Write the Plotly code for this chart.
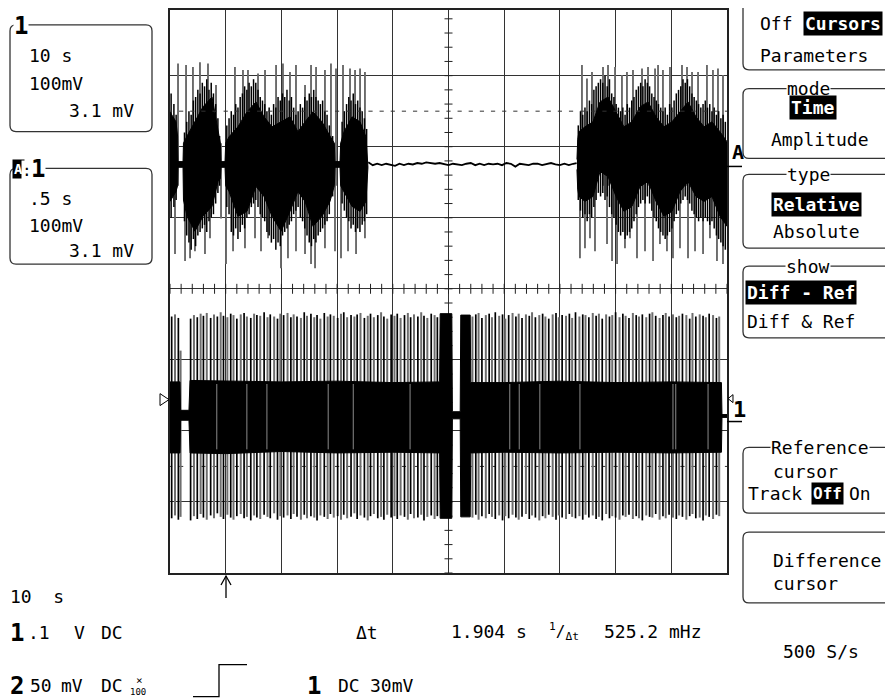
import plotly.graph_objects as go

# ---------------- DATA ----------------
# Top trace (zoom A: 0.5 s/div, 100 mV/div); time in s, voltage in mV about trace baseline
top_band_t = [0.000, 0.054, 0.068, 0.072, 0.117, 0.121, 0.153, 0.224, 0.296, 0.377,
              0.431, 0.452, 0.458, 0.494, 0.500, 0.530, 0.610, 0.691, 0.772, 0.844,
              0.916, 0.997, 1.077, 1.149, 1.212, 1.284, 1.364, 1.436, 1.475, 1.481,
              1.526, 1.532, 1.562, 1.634, 1.706, 1.759, 1.777]
top_band_hi = [74, 60, 40, 4, 4, 30, 40, 60, 81, 95,
               46, 30, 4, 4, 30, 39, 53, 74, 88, 67,
               53, 60, 67, 46, 60, 74, 60, 40, 30, 4,
               4, 30, 46, 67, 60, 39, 4]
top_band_lo = [-52, -38, -30, -4, -4, -50, -73, -94, -73, -59,
               -24, -20, -4, -4, -30, -38, -73, -66, -31, -45,
               -73, -94, -66, -38, -52, -87, -73, -52, -30, -4,
               -4, -30, -38, -59, -66, -52, -4]

top_band2_t = [3.653, 3.660, 3.671, 3.725, 3.797, 3.860, 3.932, 4.004, 4.075, 4.147,
               4.219, 4.291, 4.363, 4.434, 4.506, 4.578, 4.650, 4.722, 4.794, 4.865,
               4.937, 5.000]
top_band2_hi = [7, 35, 46, 53, 60, 88, 95, 74, 53, 60,
                81, 88, 67, 53, 60, 74, 88, 67, 53, 60,
                46, 32]
top_band2_lo = [-7, -35, -45, -52, -45, -10, -17, -45, -66, -59,
                -31, -24, -52, -73, -66, -38, -24, -45, -52, -45,
                -73, -87]

# tall (grey) excursions of the bursts
top_up_t = [0.072, 0.144, 0.206, 0.269, 0.341, 0.413, 0.583, 0.655, 0.700, 0.790,
            0.853, 0.952, 1.014, 1.077, 1.131, 1.212, 1.266, 1.311, 1.391, 1.445,
            1.490, 1.553, 1.616, 1.661, 1.706, 1.750,
            3.698, 3.743, 3.788, 3.887, 3.932, 3.995, 4.057, 4.102, 4.156, 4.237,
            4.291, 4.354, 4.381, 4.425, 4.488, 4.596, 4.641, 4.686, 4.740, 4.820,
            4.874, 4.919, 4.964]
top_up_v = [142, 140, 137, 144, 142, 112, 137, 133, 133, 128,
            133, 140, 142, 130, 140, 112, 140, 137, 133, 142,
            135, 140, 135, 133, 135, 130,
            140, 121, 130, 137, 140, 137, 126, 130, 133, 135,
            137, 135, 140, 133, 137, 140, 137, 130, 130, 140,
            133, 135, 126]
top_dn_t = [0.045, 0.135, 0.180, 0.224, 0.314, 0.359, 0.458, 0.503, 0.566, 0.673,
            0.763, 0.817, 0.880, 0.996, 1.059, 1.131, 1.212, 1.266, 1.302, 1.391,
            1.481, 1.535, 1.598, 1.670, 1.750,
            3.680, 3.725, 3.770, 3.815, 3.923, 3.968, 4.013, 4.084, 4.129, 4.192,
            4.264, 4.336, 4.398, 4.461, 4.515, 4.578, 4.650, 4.713, 4.785, 4.847,
            4.910, 4.964]
top_dn_v = [-126, -136, -132, -122, -126, -104, -76, -140, -122, -118,
            -104, -122, -104, -146, -132, -122, -126, -140, -146, -118,
            -122, -132, -122, -126, -104,
            -132, -118, -104, -122, -112, -136, -140, -118, -104, -132,
            -122, -136, -112, -122, -132, -118, -132, -122, -126, -104,
            -136, -140]

# medium (black) excursions that form the ragged body of the bursts
top_mid_t = [0.010, 0.035, 0.055,
             0.130, 0.150, 0.170, 0.190, 0.210, 0.230, 0.250, 0.270, 0.290, 0.310,
             0.330, 0.350, 0.370, 0.390, 0.410, 0.430, 0.445,
             0.510, 0.530, 0.550, 0.570, 0.590, 0.610, 0.630, 0.650, 0.670, 0.690,
             0.710, 0.730, 0.750, 0.770, 0.790, 0.810, 0.830, 0.850, 0.870, 0.890,
             0.910, 0.930, 0.950, 0.970, 0.990, 1.010, 1.030, 1.050, 1.070, 1.090,
             1.110, 1.130, 1.150, 1.170, 1.190, 1.210, 1.230, 1.250, 1.270, 1.290,
             1.310, 1.330, 1.350, 1.370, 1.390, 1.410, 1.430, 1.460,
             1.545, 1.565, 1.585, 1.605, 1.625, 1.645, 1.665, 1.685, 1.705, 1.725,
             1.745, 1.765,
             3.665, 3.685, 3.705, 3.725, 3.745, 3.765, 3.785, 3.805, 3.825, 3.845,
             3.865, 3.885, 3.905, 3.925, 3.945, 3.965, 3.985, 4.005, 4.025, 4.045,
             4.065, 4.085, 4.105, 4.125, 4.145, 4.165, 4.185, 4.205, 4.225, 4.245,
             4.265, 4.285, 4.305, 4.325, 4.345, 4.365, 4.385, 4.405, 4.425, 4.445,
             4.465, 4.485, 4.505, 4.525, 4.545, 4.565, 4.585, 4.605, 4.625, 4.645,
             4.665, 4.685, 4.705, 4.725, 4.745, 4.765, 4.785, 4.805, 4.825, 4.845,
             4.865, 4.885, 4.905, 4.925, 4.945, 4.965, 4.985]
top_mid_hi = [100, 85, 70,
              45, 60, 75, 70, 90, 95, 105, 100, 115, 110,
              120, 105, 115, 100, 85, 65, 40,
              55, 65, 75, 70, 85, 80, 95, 100, 110, 105,
              115, 110, 120, 115, 105, 95, 90, 85, 75, 80,
              70, 85, 80, 95, 90, 100, 95, 105, 90, 95,
              80, 70, 75, 85, 80, 95, 90, 100, 95, 105,
              95, 90, 85, 90, 75, 70, 55, 40,
              60, 75, 85, 95, 90, 100, 85, 90, 80, 75,
              65, 50,
              55, 75, 70, 80, 75, 90, 85, 105, 110, 115,
              120, 115, 125, 110, 120, 100, 95, 85, 80, 75,
              80, 70, 85, 80, 90, 95, 105, 110, 115, 110,
              120, 115, 110, 100, 95, 90, 85, 80, 75, 80,
              70, 85, 80, 90, 100, 105, 110, 120, 115, 120,
              110, 100, 95, 90, 85, 80, 85, 90, 80, 85,
              75, 80, 70, 75, 65, 70, 60]
top_mid_lo = [-75, -60, -50,
              -80, -100, -110, -120, -105, -115, -100, -95, -90, -85,
              -95, -80, -75, -70, -55, -40, -30,
              -60, -70, -95, -100, -90, -105, -95, -85, -90, -75,
              -70, -60, -55, -50, -60, -70, -75, -80, -95, -100,
              -110, -105, -120, -110, -115, -100, -95, -90, -85, -80,
              -70, -65, -60, -75, -80, -90, -100, -110, -115, -105,
              -110, -100, -95, -90, -85, -80, -70, -45,
              -55, -65, -75, -80, -90, -85, -95, -90, -95, -85,
              -80, -70,
              -50, -65, -75, -70, -80, -70, -75, -60, -50, -40,
              -45, -40, -50, -45, -60, -70, -75, -85, -95, -100,
              -95, -105, -100, -95, -90, -80, -70, -60, -55, -50,
              -55, -45, -55, -65, -75, -80, -90, -95, -100, -105,
              -100, -95, -90, -80, -70, -65, -55, -50, -45, -50,
              -55, -65, -70, -75, -80, -75, -80, -75, -80, -85,
              -80, -90, -100, -105, -110, -115, -120]

top_flat_t = [1.78, 1.82, 1.86, 1.90, 1.94, 1.98, 2.02, 2.06, 2.10, 2.14,
              2.18, 2.22, 2.26, 2.30, 2.34, 2.38, 2.42, 2.46, 2.50, 2.54,
              2.58, 2.62, 2.66, 2.70, 2.74, 2.78, 2.82, 2.86, 2.90, 2.94,
              2.98, 3.02, 3.06, 3.10, 3.14, 3.18, 3.22, 3.26, 3.30, 3.34,
              3.38, 3.42, 3.46, 3.50, 3.54, 3.58, 3.62, 3.65]
top_flat_v = [3, -1, 1, -1, 1, 0, -2, 1, -1, 1,
              0, 2, 1, 3, 2, 1, 2, 1, -1, 1,
              0, -1, 1, 2, -1, 1, -1, 1, 0, 1,
              -1, 2, 1, -3, 1, 0, -1, 1, 1, -1,
              1, 2, 0, -1, 1, -1, 1, 2]

# Bottom trace (channel 1: 10 s/div, 100 mV/div); time in s, voltage in mV about trace baseline
bot_band_T = [0.0, 1.8, 1.9, 3.4, 3.6, 10.0, 20.0, 30.0, 40.0, 48.4,
              48.5, 50.6, 50.7, 52.1, 52.2, 53.9, 54.0, 60.0, 70.0, 80.0,
              90.0, 99.0, 99.1, 100.0]
bot_band_hi = [48, 48, 8, 8, 50, 49, 48, 49, 47, 48,
               144, 144, 6, 6, 142, 142, 47, 47, 49, 47,
               48, 47, 2, 2]
bot_band_lo = [-52, -52, -6, -6, -52, -53, -50, -52, -51, -52,
               -144, -144, -4, -4, -142, -142, -52, -51, -52, -51,
               -52, -51, -2, -2]

bot_spike_T = [0.3, 0.9, 1.5, 1.9, 3.7,
               4.3, 4.9, 5.5, 6.0, 6.6, 7.3, 7.9, 8.5, 9.1, 9.6,
               10.3, 10.9, 11.4, 12.0, 12.7, 13.3, 13.8, 14.5, 15.1, 15.6,
               16.2, 16.9, 17.5, 18.0, 18.7, 19.3, 19.8, 20.4, 21.1, 21.7,
               22.2, 22.8, 23.5, 24.1, 24.6, 25.3, 25.9, 26.4, 27.0, 27.7,
               28.3, 28.8, 29.4, 30.1, 30.7, 31.2, 31.8, 32.5, 33.1, 33.6,
               34.2, 34.9, 35.5, 36.0, 36.6, 37.3, 37.9, 38.4, 39.0, 39.7,
               40.3, 40.8, 41.4, 42.1, 42.7, 43.2, 43.8, 44.5, 45.1, 45.6,
               46.2, 46.9, 47.5, 48.0,
               54.3, 54.9, 55.4, 56.0, 56.7, 57.3, 57.8, 58.4, 59.1, 59.7,
               60.2, 60.8, 61.5, 62.1, 62.6, 63.2, 63.9, 64.5, 65.0, 65.6,
               66.3, 66.9, 67.4, 68.0, 68.7, 69.3, 69.8, 70.4, 71.1, 71.7,
               72.2, 72.8, 73.5, 74.1, 74.6, 75.2, 75.9, 76.5, 77.0, 77.6,
               78.3, 78.9, 79.4, 80.0, 80.7, 81.3, 81.8, 82.4, 83.1, 83.7,
               84.2, 84.8, 85.5, 86.1, 86.6, 87.2, 87.9, 88.5, 89.0, 89.6,
               90.3, 90.9, 91.4, 92.0, 92.7, 93.3, 93.8, 94.4, 95.1, 95.7,
               96.2, 96.8, 97.5, 98.1, 98.6]
bot_spike_hi = [140, 143, 138, 92, 137,
                142, 139, 144, 141, 145, 138, 143, 140, 146, 141,
                139, 144, 142, 137, 143, 145, 140, 138, 144, 142,
                141, 146, 139, 143, 140, 137, 144, 142, 145, 139,
                143, 140, 138, 146, 141, 144, 139, 142, 137, 145,
                140, 143, 141, 138, 144, 146, 139, 142, 140, 143,
                145, 138, 141, 144, 139, 142, 146, 140, 137, 143,
                141, 144, 138, 142, 145, 139, 143, 140, 146, 141,
                138, 144, 142, 139,
                140, 143, 145, 138, 142, 144, 139, 146, 141, 143,
                137, 142, 145, 140, 144, 138, 143, 141, 146, 139,
                142, 144, 140, 137, 143, 145, 139, 142, 141, 144,
                138, 146, 140, 143, 142, 139, 145, 141, 144, 137,
                143, 140, 142, 146, 139, 144, 141, 138, 145, 142,
                140, 143, 139, 144, 146, 141, 138, 142, 145, 140,
                143, 139, 141, 144, 142, 137, 145, 140, 143, 141,
                139, 144, 142, 138, 140]
bot_spike_lo = [-144, -140, -146, -142, -147,
                -141, -145, -138, -143, -146, -140, -144, -137, -142, -145,
                -139, -143, -146, -141, -138, -144, -142, -147, -140, -143,
                -145, -139, -142, -144, -137, -146, -141, -143, -140, -145,
                -138, -142, -146, -139, -144, -141, -143, -147, -140, -142,
                -145, -138, -143, -141, -146, -139, -144, -142, -137, -145,
                -140, -143, -147, -141, -138, -144, -142, -146, -139, -143,
                -141, -145, -140, -142, -146, -138, -144, -143, -139, -147,
                -142, -140, -145, -141,
                -143, -139, -146, -141, -144, -138, -142, -145, -140, -147,
                -141, -144, -139, -143, -146, -142, -138, -145, -140, -143,
                -147, -141, -144, -139, -142, -146, -140, -143, -145, -138,
                -142, -144, -141, -146, -139, -143, -140, -145, -142, -147,
                -138, -144, -141, -143, -146, -140, -142, -139, -145, -141,
                -144, -147, -140, -142, -143, -138, -146, -141, -144, -139,
                -143, -145, -140, -142, -146, -141, -138, -144, -143, -147,
                -140, -142, -145, -139, -141]
# thin light lines visible inside the dense band
bot_gap_T = [8.4, 13.8, 17.4, 28.4, 32.9, 43.1, 61.0, 62.7, 66.4, 73.6, 90.3, 90.8, 96.6]

# ---------------- LAYOUT HELPERS ----------------
# The page body has an 8 px margin, so the figure is sized/placed to compensate.
OFF = 8
W, H = 893 - OFF, 700 - OFF
L, R, T, B = 170, 727, OFF, 573          # plot area in window pixels
FONT = "DejaVu Sans Mono"


def P(px, py):
    return (px - L) / (R - L), (B - py) / (B - T)


def path_of(points, close=False):
    s = ""
    for i, (px, py) in enumerate(points):
        x, y = P(px, py)
        s += ("M" if i == 0 else "L") + f"{x:.5f},{y:.5f} "
    return s + ("Z" if close else "")


def rbox(x0, y0, x1, y1, r=6):
    def p(px, py):
        x, y = P(px, py)
        return f"{x:.5f},{y:.5f}"
    d = (f"M{p(x0 + r, y0)} L{p(x1 - r, y0)} Q{p(x1, y0)} {p(x1, y0 + r)} "
         f"L{p(x1, y1 - r)} Q{p(x1, y1)} {p(x1 - r, y1)} L{p(x0 + r, y1)} "
         f"Q{p(x0, y1)} {p(x0, y1 - r)} L{p(x0, y0 + r)} Q{p(x0, y0)} {p(x0 + r, y0)} Z")
    return dict(type="path", xref="paper", yref="paper", path=d,
                line=dict(color="#333", width=1.3), layer="above")


annotations = []


def txt(s, px, py, size=18, anchor="left", bold=False, inv=False, bg=None):
    x, y = P(px, py)
    a = dict(x=x, y=y, xref="paper", yref="paper", text=(f"<b>{s}</b>" if bold else s),
             showarrow=False, xanchor=anchor, yanchor="middle",
             font=dict(family=FONT, size=size, color="white" if inv else "black"),
             borderpad=1)
    if inv:
        a["bgcolor"] = "black"
    elif bg:
        a["bgcolor"] = bg
        a["borderpad"] = 0
    annotations.append(a)


def segs(xs, lo, hi):
    X, Y = [], []
    for x, a, b in zip(xs, lo, hi):
        X += [x, x, None]; Y += [a, b, None]
    return X, Y


fig = go.Figure()

# ---------------- BOTTOM TRACE (x2/y2) ----------------
X, Y = segs(bot_spike_T[1::2], bot_spike_lo[1::2], bot_spike_hi[1::2])
fig.add_trace(go.Scatter(x=X, y=Y, mode="lines", xaxis="x2", yaxis="y2",
                         line=dict(color="#6e6e6e", width=2.0), hoverinfo="skip"))
X, Y = segs(bot_spike_T[0::2], bot_spike_lo[0::2], bot_spike_hi[0::2])
fig.add_trace(go.Scatter(x=X, y=Y, mode="lines", xaxis="x2", yaxis="y2",
                         line=dict(color="black", width=1.7), hoverinfo="skip"))
fig.add_trace(go.Scatter(x=bot_band_T + bot_band_T[::-1], y=bot_band_hi + bot_band_lo[::-1],
                         mode="lines", fill="toself", fillcolor="black", xaxis="x2", yaxis="y2",
                         line=dict(color="black", width=1), hoverinfo="skip"))
X, Y = segs(bot_gap_T, [-47] * len(bot_gap_T), [45] * len(bot_gap_T))
fig.add_trace(go.Scatter(x=X, y=Y, mode="lines", xaxis="x2", yaxis="y2",
                         line=dict(color="#8a8a8a", width=1), hoverinfo="skip"))

# ---------------- TOP TRACE (x/y) ----------------
X, Y = segs(top_up_t, [-30] * len(top_up_t), top_up_v)
fig.add_trace(go.Scatter(x=X, y=Y, mode="lines", line=dict(color="#6a6a6a", width=1.9), hoverinfo="skip"))
X, Y = segs(top_dn_t, [30] * len(top_dn_t), top_dn_v)
fig.add_trace(go.Scatter(x=X, y=Y, mode="lines", line=dict(color="#6a6a6a", width=1.9), hoverinfo="skip"))
X, Y = segs(top_mid_t, top_mid_lo, top_mid_hi)
fig.add_trace(go.Scatter(x=X, y=Y, mode="lines", line=dict(color="black", width=1.5), hoverinfo="skip"))
for bt, bh, bl in ((top_band_t, top_band_hi, top_band_lo), (top_band2_t, top_band2_hi, top_band2_lo)):
    fig.add_trace(go.Scatter(x=bt + bt[::-1], y=bh + bl[::-1], mode="lines", fill="toself",
                             fillcolor="black", line=dict(color="black", width=1), hoverinfo="skip"))
fig.add_trace(go.Scatter(x=top_flat_t, y=top_flat_v, mode="lines",
                         line=dict(color="black", width=1.8), hoverinfo="skip"))

# ---------------- GRATICULE EXTRAS ----------------
tx, ty = [], []
for k in range(51):
    x = 0.1 * k
    tx += [x, x, None]; ty += [-182, -168, None]
for k in range(40):
    y = -575 + 20 * k
    tx += [2.464, 2.536, None]; ty += [y, y, None]
fig.add_trace(go.Scatter(x=tx, y=ty, mode="lines", line=dict(color="#222", width=1), hoverinfo="skip"))
dots_x = [0.1 * k for k in range(51)]
fig.add_trace(go.Scatter(x=dots_x * 2, y=[75] * 51 + [-425] * 51, mode="markers",
                         marker=dict(symbol="line-ew", size=3, line=dict(color="#333", width=1)),
                         hoverinfo="skip"))

# ---------------- SHAPES ----------------
shapes = []
shapes.append(rbox(10, 23, 152, 130))
shapes.append(rbox(10, 167, 152, 263))
for (y0, y1) in [(-12, 68), (87, 157), (173, 247), (265, 337), (447, 513), (532, 603)]:
    shapes.append(rbox(743, y0, 910, y1))
shapes.append(dict(type="path", xref="paper", yref="paper",
                   path=path_of([(193, 697), (219, 697), (219, 665), (247, 665)]),
                   line=dict(color="black", width=1.3)))
shapes.append(dict(type="path", xref="paper", yref="paper",
                   path=path_of([(226, 598), (226, 576)]), line=dict(color="black", width=1.3)))
shapes.append(dict(type="path", xref="paper", yref="paper",
                   path=path_of([(221, 585), (226, 576), (231, 585)]), line=dict(color="black", width=1.3)))
shapes.append(dict(type="path", xref="paper", yref="paper",
                   path=path_of([(160, 393), (169, 399), (160, 405)], close=True),
                   line=dict(color="black", width=1)))
shapes.append(dict(type="path", xref="paper", yref="paper",
                   path=path_of([(733, 394), (728, 398), (733, 402)], close=True),
                   line=dict(color="black", width=1)))
shapes.append(dict(type="path", xref="paper", yref="paper",
                   path=path_of([(727, 165), (742, 165)]), line=dict(color="black", width=1.5)))
shapes.append(dict(type="path", xref="paper", yref="paper",
                   path=path_of([(727, 421), (742, 421)]), line=dict(color="black", width=1.5)))

# ---------------- TEXT ----------------
txt("1", 13, 24, size=24, bold=True, bg="white")
txt("10 s", 27, 54)
txt("100mV", 27, 82)
txt("3.1 mV", 67, 109)
txt("A", 12, 168, size=14, bold=True, inv=True)
txt(":", 21, 169, size=16, bg="white")
txt("1", 30, 168, size=24, bold=True, bg="white")
txt(".5 s", 27, 197)
txt("100mV", 27, 224)
txt("3.1 mV", 67, 249)

txt("Off", 758, 22)
txt("Cursors", 803, 22, bold=True, inv=True)
txt("Parameters", 758, 54)
txt("mode", 808, 87, anchor="center", bg="white")
txt("Time", 813, 106, anchor="center", bold=True, inv=True)
txt("Amplitude", 769, 138)
txt("type", 808, 173, anchor="center", bg="white")
txt("Relative", 771, 203, bold=True, inv=True)
txt("Absolute", 771, 230)
txt("show", 808, 265, anchor="center", bg="white")
txt("Diff - Ref", 745, 292, bold=True, inv=True)
txt("Diff &amp; Ref", 745, 321)
txt("Reference", 820, 447, anchor="center", bg="white")
txt("cursor", 771, 471)
txt("Track", 746, 493)
txt("Off", 811, 493, size=16, bold=True, inv=True)
txt("On", 847, 493)
txt("Difference", 771, 560)
txt("cursor", 771, 584)
txt("500 S/s", 781, 652)

txt("A", 730, 151, size=20, bold=True)
txt("1", 731, 409, size=22, bold=True)

txt("10  s", 8, 597)
txt("1", 8, 633, size=24, bold=True)
txt(".1", 26, 633)
txt("V", 72, 633)
txt("DC", 99, 633)
txt("Δt", 354, 633)
txt("1.904 s", 449, 632)
txt("<sup>1</sup>/<sub>Δt</sub>", 547, 632, size=16)
txt("525.2 mHz", 602, 632)
txt("2", 8, 686, size=24, bold=True)
txt("50", 28, 686)
txt("mV", 59, 686)
txt("DC", 99, 686)
txt("×", 134, 681, size=11)
txt("100", 128, 692, size=9)
txt("1", 305, 686, size=24, bold=True)
txt("DC", 336, 686)
txt("30mV", 368, 686)

grid = dict(showgrid=True, gridcolor="#333", gridwidth=1, zeroline=False,
            showticklabels=False, ticks="", showline=True, mirror=True,
            linecolor="#222", linewidth=1.5)
fig.update_layout(
    width=W, height=H, autosize=False,
    margin=dict(l=L - OFF, r=W - (R - OFF), t=0, b=H - (B - OFF), pad=0),
    paper_bgcolor="white", plot_bgcolor="white", showlegend=False,
    xaxis=dict(range=[0, 5], dtick=0.5, tick0=0, **grid),
    yaxis=dict(range=[-575, 217.4], dtick=100, tick0=25, **grid),
    xaxis2=dict(range=[0, 100], overlaying="x", visible=False),
    yaxis2=dict(range=[-221, 571.4], overlaying="y", visible=False),
    shapes=shapes, annotations=annotations,
)

fig.write_html("out.html")
